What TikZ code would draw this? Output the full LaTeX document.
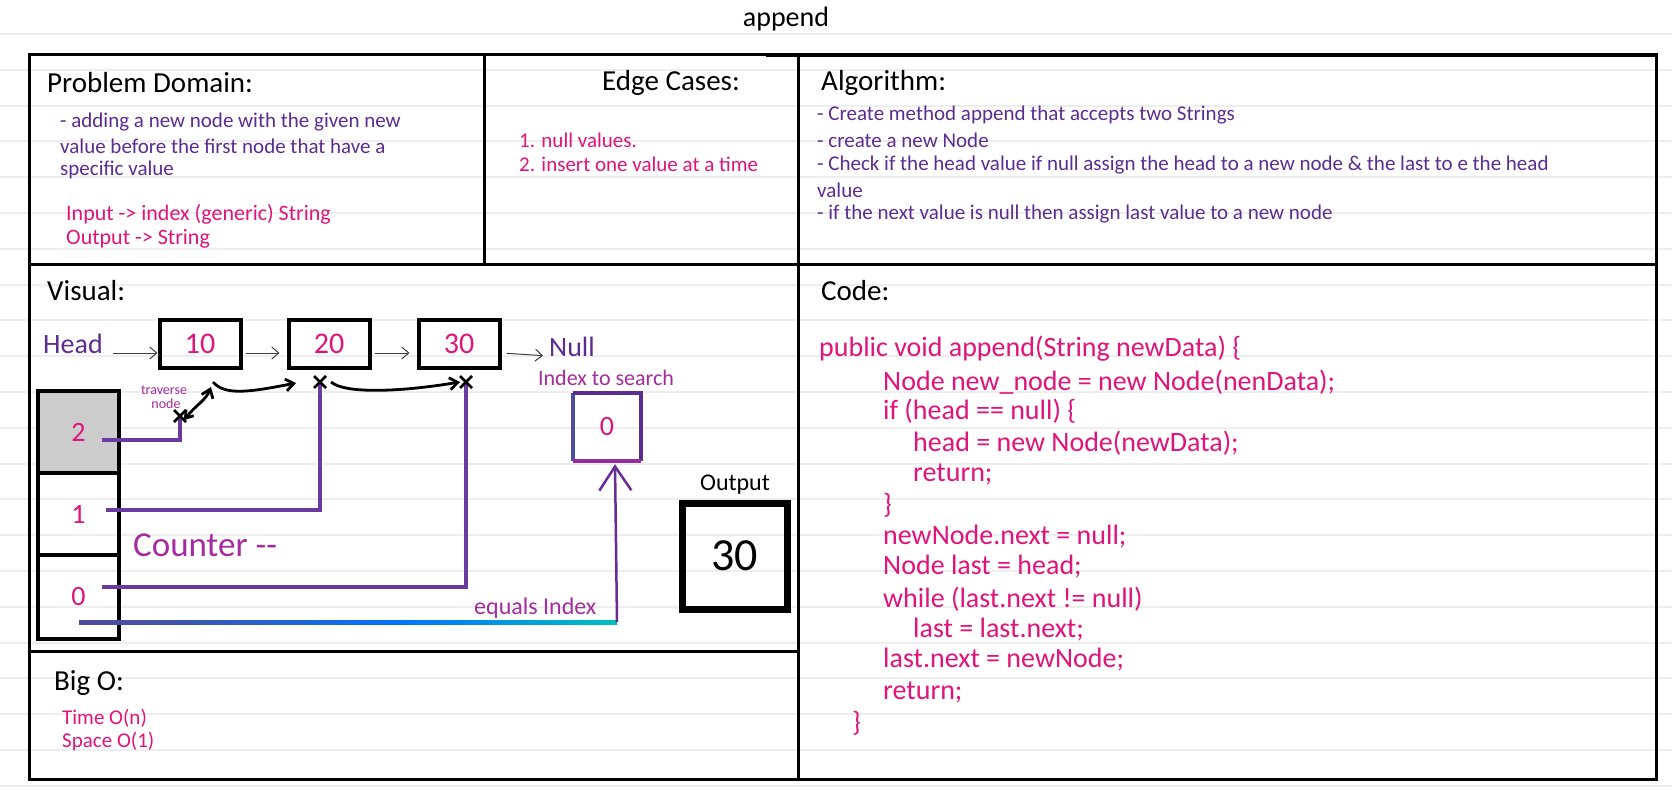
\documentclass[tikz,border=0pt]{standalone}
\usepackage{fontspec}
\setmainfont{Carlito}
\usetikzlibrary{arrows.meta}
\definecolor{purp}{HTML}{5B2D90}
\definecolor{pnk}{HTML}{E0147A}
\definecolor{mag}{HTML}{A42C9E}
\definecolor{rulec}{HTML}{EEEEEE}
\definecolor{lnp}{HTML}{6A3A9E}
\definecolor{idxblue}{HTML}{4A4FA0}
\newcommand\fsz[1]{\fontsize{#1pt}{#1pt}\selectfont}
\pgfdeclarehorizontalshading{rainbowline}{100bp}{color(0bp)=(purp); color(30bp)=(idxblue); color(55bp)=(cyan!45!blue); color(75bp)=(teal!50!cyan); color(100bp)=(green!60!teal)}
\newcommand\myX[1]{\draw[xm] ([shift={(-6pt,-6pt)}]#1) -- ([shift={(6pt,6pt)}]#1) ([shift={(-6pt,6pt)}]#1) -- ([shift={(6pt,-6pt)}]#1);}
\begin{document}
\begin{tikzpicture}[x=1pt,y=-1pt,
  frame/.style={line width=3pt, black},
  txt/.style={anchor=west, inner sep=0pt},
  hd/.style={txt, font=\fsz{29}, text=black},
  body/.style={txt, font=\fsz{21}, text=purp},
  pbody/.style={txt, font=\fsz{21}, text=pnk},
  code/.style={txt, font=\fsz{28}, text=pnk},
  lbox/.style={draw, line width=4pt, minimum width=81pt, minimum height=48pt, inner sep=0pt, text=pnk, font=\fsz{30}},
  sbox/.style={draw, line width=4pt, minimum width=81pt, inner sep=0pt, text=pnk, font=\fsz{28}},
  thin/.style={line width=1pt, black!75, -{Straight Barb[length=7pt,width=12pt]}},
  curv/.style={line width=2.8pt, black, -{Straight Barb[length=8pt,width=12pt]}},
  pl/.style={line width=3.2pt, lnp},
  xm/.style={line width=2.5pt, black}
]
\useasboundingbox (0,0) rectangle (1672,797);
\fill[white] (0,0) rectangle (1672,797);
% ruled paper
\foreach \k in {0,...,21} {
  \draw[rulec, line width=2pt] (0,{34+35.8*\k}) -- (1672,{34+35.8*\k});
}
% frame
\draw[frame] (29,55) rectangle (1656,779);
\draw[line width=4.5pt] (766,55) -- (1656,55);
\draw[frame] (484,55) -- (484,264);
\draw[frame] (798,55) -- (798,779);
\draw[frame] (29,264) -- (1656,264);
\draw[frame] (29,651) -- (798,651);

% title
\node[font=\fsz{28}, inner sep=0pt] (title) at (786,19) {append};

% Problem domain
\node[hd] (pdh) at (47,83) {Problem Domain:};
\node[body] (pd1) at (60,122) {- adding a new node with the given new};
\node[body] (pd2) at (60,146) {value before the first node that have a};
\node[body] (pd3) at (60,170) {specific value};
\node[pbody, font=\fsz{22}] (pin) at (66,214) {Input -> index (generic) String};
\node[pbody, font=\fsz{22}] (pout) at (66,239) {Output -> String};

% Edge cases
\node[hd] (ech) at (602,83) {Edge Cases:};
\node[pbody] (ec1) at (519,140) {1. null values.};
\node[pbody] (ec2) at (519,164) {2. insert one value at a time};

% Algorithm
\node[hd] (alh) at (821,83) {Algorithm:};
\node[body] (al1) at (817,115) {- Create method append that accepts two Strings};
\node[body] (al2) at (817,140) {- create a new Node};
\node[body] (al3) at (817,165) {- Check if the head value if null assign the head to a new node \& the last to e the head};
\node[body] (al4) at (817,190) {value};
\node[body] (al5) at (817,214) {- if the next value is null then assign last value to a new node};

% Visual
\node[hd] (vih) at (47,291) {Visual:};
\node[txt, font=\fsz{28}, text=purp] (head) at (43,344) {Head};
\node[lbox] (n10) at (200,344) {10};
\node[lbox] (n20) at (329,344) {20};
\node[lbox] (n30) at (459,344) {30};
\node[txt, font=\fsz{28}, text=purp] (null) at (549,347) {Null};
\draw[thin] ([yshift=-9pt]head.east) ++(10pt,0) -- ([yshift=-9pt]n10.west) ;
\draw[thin, shorten <=3pt, shorten >=7pt] ([yshift=-9pt]n10.east) -- ([yshift=-9pt]n20.west);
\draw[thin, shorten <=3pt, shorten >=7pt] ([yshift=-9pt]n20.east) -- ([yshift=-9pt]n30.west);
\draw[thin, shorten <=5pt, shorten >=6pt] ([yshift=-9pt]n30.east) -- ([yshift=-9pt]null.west);

% stack
\node[sbox, fill=black!20, minimum height=82pt] (s2) at (78.5,432) {2};
\node[sbox, minimum height=82pt] (s1) at (78.5,514) {1};
\node[sbox, minimum height=84pt] (s0) at (78.5,597) {0};
\node[txt, font=\fsz{35}, text=mag] (counter) at (133,545) {Counter -{}-};

% traverse marks
\coordinate (x1) at (180,416);
\coordinate (x2) at (320,382);
\coordinate (x3) at (466,382);
\draw[pl] ([xshift=23pt,yshift=-8pt]s2.center) -| (x1);
\draw[pl] ([xshift=27pt,yshift=4pt]s1.center) -| (x2);
\draw[pl] ([xshift=23pt,yshift=10pt]s0.center) -| (x3);
\myX{x1}
\myX{x2}
\myX{x3}
\coordinate (t10) at (211,387);
\draw[line width=2.8pt, {Straight Barb[length=7pt,width=10pt]}-{Straight Barb[length=8pt,width=12pt]}] ([shift={(4pt,-4pt)}]x1) .. controls (196,405) and (206,400) .. (t10);
\node[font=\fsz{14}, text=mag, inner sep=0pt] (trav) at (164,390) {traverse};
\node[font=\fsz{14}, text=mag, inner sep=0pt] (trnode) at (166,404) {node};
\draw[curv] ([xshift=13pt,yshift=-12pt]n10.south) .. controls (225,396) and (250,392) .. ([xshift=-33pt,yshift=-13pt]n20.south);
\draw[curv] ([xshift=2pt,yshift=-12pt]n20.south) .. controls (345,394) and (400,392) .. ([xshift=1pt,yshift=-12pt]n30.south);

% index to search
\node[font=\fsz{22}, text=mag, inner sep=0pt] (its) at (606,378) {Index to search};
\node[minimum width=68pt, minimum height=68pt, inner sep=0pt, text=pnk, font=\fsz{28}] (idx) at (607,427) {0};
\draw[line width=3.5pt, idxblue] (idx.north west) -- (idx.south west);
\draw[line width=3.5pt, purp] (idx.north west) -- (idx.north east) -- (idx.south east);
\draw[line width=3.5pt, mag!80!purp] (idx.south west) -- (idx.south east);

% equals index
\coordinate (gL) at (79,622);
\coordinate (gR) at (617,622);
\shade[shading=rainbowline] (79,620) rectangle (617,624);
\draw[line width=2.5pt, purp!85!mag, -{Straight Barb[length=24pt,width=32pt]}] (gR) -- ([xshift=8pt,yshift=-3pt]idx.south);
\node[txt, font=\fsz{24}, text=mag] (eqi) at (474,608) {equals Index};

% output
\node[font=\fsz{24}, inner sep=0pt] (outl) at (735,485) {Output};
\node[draw, line width=7pt, minimum width=105pt, minimum height=106pt, inner sep=0pt, font=\fsz{46}] (out) at (734.5,556) {30};

% Big O
\node[hd] (boh) at (54,683) {Big O:};
\node[pbody] (bo1) at (62,718) {Time O(n)};
\node[pbody] (bo2) at (62,742) {Space O(1)};

% Code
\node[hd] (coh) at (821,291) {Code:};
\node[code] (c1) at (819,349) {public void append(String newData) \{};
\node[code] (c2) at (883,382) {Node new\_node = new Node(nenData);};
\node[code] (c3) at (883,411) {if (head == null) \{};
\node[code] (c4) at (913,443) {head = new Node(newData);};
\node[code] (c5) at (913,474) {return;};
\node[code] (c6) at (883,505) {\}};
\node[code] (c7) at (883,537) {newNode.next = null;};
\node[code] (c8) at (883,567) {Node last = head;};
\node[code] (c9) at (883,599) {while (last.next != null)};
\node[code] (c10) at (913,630) {last = last.next;};
\node[code] (c11) at (883,660) {last.next = newNode;};
\node[code] (c12) at (883,692) {return;};
\node[code] (c13) at (852,723) {\}};
\end{tikzpicture}
\end{document}
